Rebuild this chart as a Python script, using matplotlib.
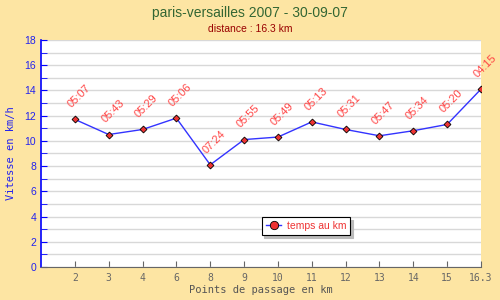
import matplotlib.pyplot as plt
from matplotlib.ticker import MultipleLocator
import numpy as np

km_labels = ["2", "3", "4", "6", "8", "9", "10", "11", "12", "13", "14", "15", "16.3"]
speeds = [11.7, 10.5, 10.9, 11.8, 8.1, 10.1, 10.3, 11.5, 10.9, 10.4, 10.8, 11.3, 14.1]
paces = ["05:07", "05:43", "05:29", "05:06", "07:24", "05:55", "05:49",
         "05:13", "05:31", "05:47", "05:34", "05:20", "04:15"]

bg = "#fde5a3"
mono = "DejaVu Sans Mono"
sans = "Liberation Sans"

fig = plt.figure(figsize=(5, 3), dpi=100, facecolor=bg)
ax = fig.add_axes([0.082, 0.11, 0.88, 0.757])
ax.set_facecolor("white")

x = np.arange(1, len(km_labels) + 1)
ax.plot(x, speeds, color="#3333ff", lw=1, marker="D", ms=3.5,
        mfc="#ee3333", mec="black", mew=0.6, label="temps au km", zorder=3)

for xi, yi, t in zip(x, speeds, paces):
    ax.annotate(t, (xi, yi), xytext=(3, 7), textcoords="offset points",
                rotation=45, ha="center", va="bottom", color="#ff4444",
                fontsize=8, family=sans, annotation_clip=False)

ax.set_xlim(0, len(km_labels))
ax.set_ylim(0, 18)
ax.set_xticks(x)
ax.set_xticklabels(km_labels, family=mono, fontsize=7, color="#666666")
ax.yaxis.set_major_locator(MultipleLocator(2))
ax.yaxis.set_minor_locator(MultipleLocator(1))
for lab in ax.get_yticklabels():
    lab.set_family(sans)
    lab.set_fontsize(7.5)
    lab.set_color("#2222ee")

ax.grid(axis="y", which="both", color="#d8d8d8", lw=1)
ax.set_axisbelow(True)
ax.spines["top"].set_visible(False)
ax.spines["right"].set_visible(False)
ax.spines["left"].set_color("#0000ff")
ax.spines["left"].set_linewidth(1.2)
ax.spines["bottom"].set_color("#666666")
ax.tick_params(axis="x", direction="in", color="#666666", length=4, pad=4)
ax.tick_params(axis="y", which="both", direction="in", color="#0000ff", length=4)

ax.set_xlabel("Points de passage en km", family=mono, fontsize=7.5,
              color="#555555", labelpad=2)
ax.set_ylabel("Vitesse en km/h", family=mono, fontsize=7.5,
              color="#2222ee", labelpad=6)

fig.text(0.5, 0.955, "paris-versailles 2007 - 30-09-07", ha="center", va="center",
         family=sans, fontsize=10, color="#336633")
fig.text(0.5, 0.905, "distance : 16.3 km", ha="center", va="center",
         family=sans, fontsize=7.5, color="#990000")

leg = ax.legend(loc="center", bbox_to_anchor=(0.602, 0.18), fancybox=False,
                shadow={"color": "#bbbbbb", "alpha": 1}, edgecolor="black",
                framealpha=1, prop={"family": sans, "size": 7.5},
                handlelength=1.5, handletextpad=0.5, borderpad=0.4)
leg.get_frame().set_linewidth(0.8)
for t in leg.get_texts():
    t.set_color("#ee3333")
leg.get_lines()[0].set_markersize(6)
leg.get_lines()[0].set_marker("o")

fig.savefig("out.png", dpi=100, facecolor=bg)
